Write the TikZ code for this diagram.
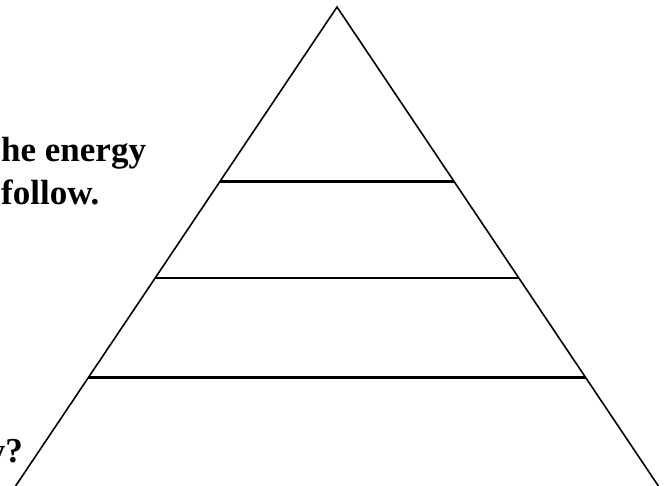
\documentclass[tikz,border=0pt]{standalone}
\usepackage{fontspec}
\setmainfont{Liberation Serif}
\usetikzlibrary{calc}

\begin{document}
\begin{tikzpicture}[x=1pt,y=-1pt,
	txt/.style={anchor=base west,inner sep=0pt,font=\bfseries\fontsize{35}{42}\selectfont},
	tier/.style={line width=3pt}]
	\useasboundingbox (0,0) rectangle (670,486);
	\clip (0,0) rectangle (670,486);
	\coordinate (top) at (337,7);
	\coordinate (left) at (15.6,486);
	\coordinate (right) at (658.4,486);
	\draw[line width=1.6pt] (left) -- (top) -- (right);
	\draw[tier] ($(top)!0.3633!(left)$) -- ($(top)!0.3633!(right)$);
	\draw[tier,line width=2.2pt] ($(top)!0.5658!(left)$) -- ($(top)!0.5658!(right)$);
	\draw[tier] ($(top)!0.7745!(left)$) -- ($(top)!0.7745!(right)$);
	\node[txt] (energy) at (1,162) {he energy};
	\node[txt] (follow) at (1,205) {follow.};
	\node[txt,anchor=base east] (why) at (23,463) {y?};
\end{tikzpicture}
\end{document}
